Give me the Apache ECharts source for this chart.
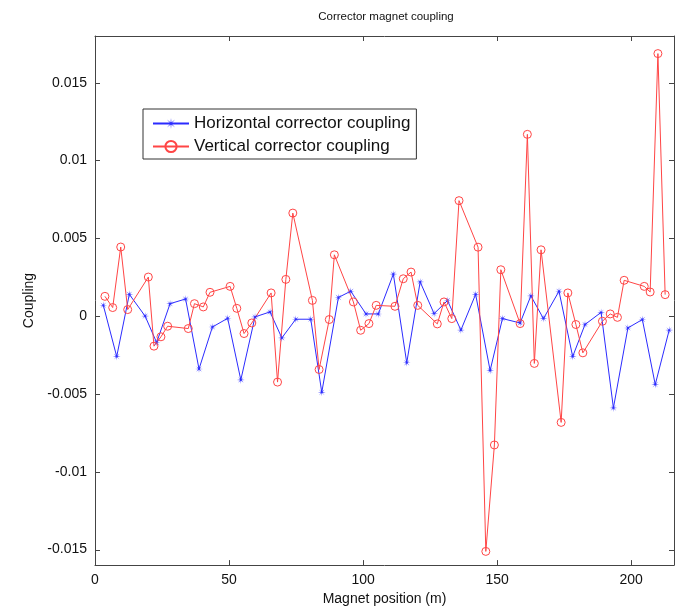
<!DOCTYPE html>
<html>
<head>
<meta charset="utf-8">
<script src="https://cdn.jsdelivr.net/npm/echarts@6/dist/echarts.min.js"></script>
<style>html,body{margin:0;padding:0;background:#fff;}#c{width:675px;height:611px;}</style>
</head>
<body>
<div id="c"></div>
<script>
const horizX = [3.1, 8.1, 12.8, 18.7, 23.0, 28.0, 33.8, 38.8, 43.8, 49.5, 54.4, 59.7, 65.3, 69.7, 74.9, 80.5, 84.6, 90.8, 95.4, 101.1, 105.7, 111.3, 116.3, 121.3, 126.5, 131.5, 136.5, 142.0, 147.4, 152.0, 158.6, 162.6, 167.3, 173.1, 178.2, 182.8, 188.8, 193.4, 198.8, 204.2, 209.0, 214.2];
const horizY = [0.0007, -0.0026, 0.0014, 0.0000, -0.0017, 0.0008, 0.0011, -0.0034, -0.0007, -0.00014, -0.0041, -0.00005, 0.00027, -0.0014, -0.0002, -0.0002, -0.0049, 0.0012, 0.0016, 0.00014, 0.00014, 0.0027, -0.0030, 0.0022, 0.00016, 0.0010, -0.0009, 0.0014, -0.0035, -0.00016, -0.00044, 0.0013, -0.00016, 0.0016, -0.0026, -0.00054, 0.00024, -0.0059, -0.00076, -0.00022, -0.0044, -0.0009];
const vertX = [3.7, 6.6, 9.6, 12.2, 19.9, 22.0, 24.6, 27.1, 34.8, 37.1, 40.4, 42.9, 50.4, 52.9, 55.6, 58.5, 65.7, 68.1, 71.2, 73.8, 81.1, 83.6, 87.4, 89.3, 96.4, 99.1, 102.2, 104.9, 111.9, 115.0, 117.9, 120.4, 127.7, 130.2, 133.1, 135.8, 142.9, 145.8, 149.0, 151.4, 158.6, 161.3, 163.9, 166.4, 173.9, 176.4, 179.4, 182.0, 189.3, 192.2, 194.9, 197.4, 204.9, 207.1, 210.0, 212.7];
const vertY = [0.00127, 0.00055, 0.00444, 0.00042, 0.00251, -0.00193, -0.00133, -0.00065, -0.0008, 0.0008, 0.00059, 0.00153, 0.00191, 0.0005, -0.00112, -0.00044, 0.00149, -0.00424, 0.00236, 0.00662, 0.00101, -0.00343, -0.00022, 0.00394, 0.00091, -0.00091, -0.00048, 0.00069, 0.00063, 0.0024, 0.00283, 0.00069, -0.0005, 0.00091, -0.00016, 0.00742, 0.00443, -0.01512, -0.00828, 0.00298, -0.00048, 0.01168, -0.00304, 0.00426, -0.00683, 0.00149, -0.00054, -0.00236, -0.00033, 0.00014, -0.00008, 0.0023, 0.00191, 0.00155, 0.01687, 0.00138];
const xTicks = [0, 50, 100, 150, 200];
const yTicks = [-0.015, -0.01, -0.005, 0, 0.005, 0.01, 0.015];
const seriesNames = ['Horizontal corrector coupling', 'Vertical corrector coupling'];
const titleText = 'Corrector magnet coupling';
const xName = 'Magnet position (m)';
const yName = 'Coupling';

const FONT = 'Liberation Sans, Arial, sans-serif';
const AX = '#444';
const TICK_LEN = 5;
const star = 'path://M0,-100L7.65,-18.5L70.7,-70.7L18.5,-7.65L100,0L18.5,7.65L70.7,70.7L7.65,18.5L0,100L-7.65,18.5L-70.7,70.7L-18.5,7.65L-100,0L-18.5,-7.65L-70.7,-70.7L-7.65,-18.5Z';
const fmt = v => String(parseFloat(Number(v).toFixed(4)));

function axisCommon(ticks, showLabel) {
  return {
    axisLine: { show: true, onZero: false, lineStyle: { color: AX, width: 1 } },
    axisTick: { show: false },
    axisLabel: { show: showLabel, customValues: ticks, formatter: fmt, color: '#111', fontFamily: FONT, fontSize: 14, margin: 8 },
    splitLine: { show: false }
  };
}

const chart = echarts.init(document.getElementById('c'), null, { renderer: 'canvas' });
chart.setOption({
  animation: false,
  backgroundColor: '#fff',
  title: { text: titleText, left: 381, top: 6, textAlign: 'center',
    textStyle: { fontFamily: FONT, fontSize: 11.5, fontWeight: 'normal', color: '#111' } },
  grid: { left: 95, right: 1, top: 36, bottom: 44 },
  legend: {
    orient: 'vertical', left: 143, top: 109,
    padding: [6, 6, 4, 9], itemGap: 6, itemWidth: 36, itemHeight: 14,
    backgroundColor: '#fff', borderColor: '#333', borderWidth: 1,
    textStyle: { fontFamily: FONT, fontSize: 17, color: '#111' },
    data: seriesNames, z: 10
  },
  xAxis: [
    Object.assign({ type: 'value', min: 0, max: 216, position: 'bottom',
      name: xName, nameLocation: 'middle', nameGap: 25,
      nameTextStyle: { fontFamily: FONT, fontSize: 14, color: '#111' } }, axisCommon(xTicks, true)),
    Object.assign({ type: 'value', min: 0, max: 216, position: 'top' }, axisCommon(xTicks, false))
  ],
  yAxis: [
    Object.assign({ type: 'value', min: -0.016, max: 0.018, position: 'left',
      name: yName, nameLocation: 'middle', nameGap: 44,
      nameTextStyle: { fontFamily: FONT, fontSize: 14, color: '#111' } }, axisCommon(yTicks, true)),
    Object.assign({ type: 'value', min: -0.016, max: 0.018, position: 'right' }, axisCommon(yTicks, false))
  ],
  series: [
    {
      name: seriesNames[0], type: 'line', xAxisIndex: 0, yAxisIndex: 0,
      data: horizX.map((x, i) => [x, horizY[i]]),
      symbol: star, symbolSize: 8, showAllSymbol: true,
      lineStyle: { color: '#2b2bff', width: 1 },
      itemStyle: { color: '#2b2bff' }
    },
    {
      name: seriesNames[1], type: 'line', xAxisIndex: 0, yAxisIndex: 0,
      data: vertX.map((x, i) => [x, vertY[i]]),
      symbol: 'circle', symbolSize: 8, showAllSymbol: true,
      lineStyle: { color: '#ff4545', width: 1 },
      itemStyle: { color: 'rgba(255,255,255,0)', borderColor: '#ff4545', borderWidth: 1 }
    }
  ]
});

// Inside tick marks on all four sides, positioned through the chart's own scales
function drawTicks() {
  const els = [];
  const yTop = chart.convertToPixel({ yAxisIndex: 0 }, 0.018);
  const yBot = chart.convertToPixel({ yAxisIndex: 0 }, -0.016);
  const xL = chart.convertToPixel({ xAxisIndex: 0 }, 0);
  const xR = chart.convertToPixel({ xAxisIndex: 0 }, 216);
  const st = { stroke: AX, lineWidth: 1 };
  xTicks.forEach(v => {
    const px = Math.round(chart.convertToPixel({ xAxisIndex: 0 }, v)) + 0.5;
    els.push({ type: 'line', silent: true, z: 5, shape: { x1: px, y1: yBot, x2: px, y2: yBot - TICK_LEN }, style: st });
    els.push({ type: 'line', silent: true, z: 5, shape: { x1: px, y1: yTop, x2: px, y2: yTop + TICK_LEN }, style: st });
  });
  yTicks.forEach(v => {
    const py = Math.round(chart.convertToPixel({ yAxisIndex: 0 }, v)) + 0.5;
    els.push({ type: 'line', silent: true, z: 5, shape: { x1: xL, y1: py, x2: xL + TICK_LEN, y2: py }, style: st });
    els.push({ type: 'line', silent: true, z: 5, shape: { x1: xR, y1: py, x2: xR - TICK_LEN, y2: py }, style: st });
  });
  chart.setOption({ graphic: els });
}
drawTicks();
</script>
</body>
</html>
